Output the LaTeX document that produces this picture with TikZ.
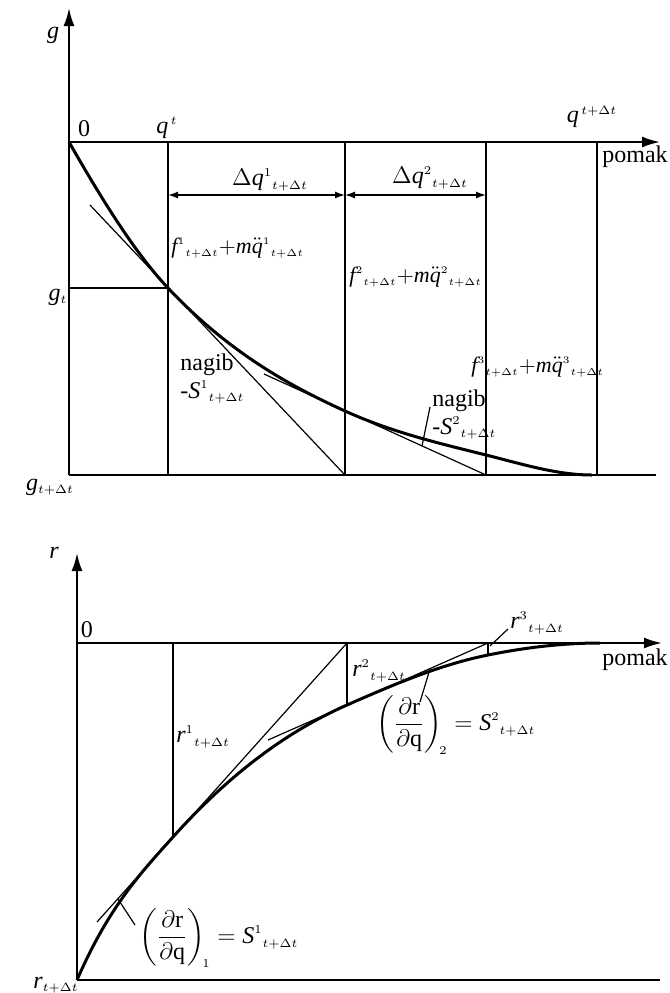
\documentclass[tikz,border=0pt]{standalone}
\usepackage{amsmath}
\usepackage{fontspec}
\setmainfont{Liberation Serif}
\usetikzlibrary{arrows.meta}
\newcommand{\lsub}[1]{{}_{\scriptscriptstyle #1}}
\newcommand{\lsup}[1]{^{\scriptscriptstyle #1}}
\begin{document}
\begin{tikzpicture}[x=0.5pt,y=-0.5pt,
  axis/.style={line width=1pt,-{Latex[length=9pt,width=5.5pt]}},
  frameline/.style={line width=0.9pt},
  thinline/.style={line width=0.6pt},
  curveline/.style={line width=1.5pt},
  lbl/.style={inner sep=0pt,font=\fontsize{12}{14}\selectfont},
  flbl/.style={inner sep=0pt,font=\fontsize{11}{13}\selectfont},
  dimline/.style={line width=0.7pt,{Latex[length=5pt,width=3.5pt]}-{Latex[length=5pt,width=3.5pt]}}
]
\useasboundingbox (0,0) rectangle (670,993);

% ================= TOP DIAGRAM =================
\coordinate (O1) at (69,142);
\coordinate (gtop) at (69,8);
\coordinate (xtip) at (660,142);
\coordinate (B0) at (69,475);
\coordinate (Bend) at (656,475);
\coordinate (V1t) at (168,142); \coordinate (V1b) at (168,475);
\coordinate (V2t) at (345,142); \coordinate (V2b) at (345,475);
\coordinate (V3t) at (486,142); \coordinate (V3b) at (486,475);
\coordinate (V4t) at (597,142); \coordinate (V4b) at (597,475);
\coordinate (gtl) at (69,288);
\coordinate (P1) at (168,288);
\coordinate (P2) at (345,411);
\coordinate (P3) at (486,455);
\coordinate (P4) at (592,475);
\coordinate (T1a) at (90,205);
\coordinate (T2a) at (264,374);
\coordinate (d1a) at (168,195);
\coordinate (d1b) at (345,195);
\coordinate (d2b) at (486,195);
\coordinate (L2a) at (430,407);
\coordinate (L2b) at (422,446);

\draw[axis] (B0) -- (gtop);
\draw[axis] (O1) -- (xtip);
\draw[frameline] (B0) -- (Bend);
\foreach \v in {1,2,3,4} \draw[thinline] (V\v t) -- (V\v b);
\draw[thinline] (gtl) -- (P1);
\draw[thinline] (T1a) -- (V2b);
\draw[thinline] (T2a) -- (V3b);
\draw[thinline] (L2a) -- (L2b);
\draw[dimline] (d1a) -- (d1b);
\draw[dimline] (d1b) -- (d2b);
\draw[curveline] (O1) .. controls (102,199.7) and (135,253) .. (P1)
  .. controls (227,350.5) and (286,384.2) .. (P2)
  .. controls (392,432.3) and (439,443.3) .. (P3)
  .. controls (521.3,463.8) and (556.7,475) .. (P4);

\node[lbl] (glab) at (53,35) {\textit{g}};
\node[lbl] (zero1) at (84,129) {0};
\node[lbl] (qt) at (167,128) {$\textit{q}\lsup{\,t}$};
\node[lbl] (qtdt) at (592,117) {$\textit{q}\lsup{\,t+\Delta t}$};
\node[lbl] (pomak1) at (635,157) {pomak};
\node[lbl] (dq1) at (270,180) {$\Delta\textit{q}\lsup{1}\lsub{t+\Delta t}$};
\node[lbl] (dq2) at (430,178) {$\Delta\textit{q}\lsup{2}\lsub{t+\Delta t}$};
\node[flbl,anchor=west] (f1) at (171,248) {$\textit{f}\lsup{1}\lsub{t+\Delta t}{+}\textit{m}\ddot{\textit{q}}\lsup{1}\lsub{t+\Delta t}$};
\node[flbl,anchor=west] (f2) at (349,277) {$\textit{f}\lsup{2}\lsub{t+\Delta t}{+}\textit{m}\ddot{\textit{q}}\lsup{2}\lsub{t+\Delta t}$};
\node[flbl,anchor=west] (f3) at (471,367) {$\textit{f}\lsup{3}\lsub{t+\Delta t}{+}\textit{m}\ddot{\textit{q}}\lsup{3}\lsub{t+\Delta t}$};
\node[lbl,anchor=west] (nag1) at (180,365) {nagib};
\node[lbl,anchor=west] (s1) at (180,392) {-$\textit{S}\lsup{1}\lsub{t+\Delta t}$};
\node[lbl,anchor=west] (nag2) at (432,401) {nagib};
\node[lbl,anchor=west] (s2) at (432,428) {-$\textit{S}\lsup{2}\lsub{t+\Delta t}$};
\node[lbl] (gt) at (58,297) {$\textit{g}\lsub{t}$};
\node[lbl] (gtdt) at (50,487) {$\textit{g}\lsub{t+\Delta t}$};

% ================= BOTTOM DIAGRAM =================
\coordinate (O2) at (77,643);
\coordinate (rtip) at (77,553);
\coordinate (R0) at (77,980);
\coordinate (x2tip) at (662,643);
\coordinate (Rend) at (660,980);
\coordinate (W1t) at (173,643); \coordinate (Q1) at (173,837);
\coordinate (W2t) at (347,643); \coordinate (Q2) at (347,705);
\coordinate (W3t) at (488,643); \coordinate (Q3) at (488,655);
\coordinate (Q4) at (600,643);
\coordinate (U1a) at (97,922);
\coordinate (U2a) at (268,740);
\coordinate (M3a) at (508,629);
\coordinate (M3b) at (490,646);
\coordinate (M2a) at (430,669);
\coordinate (M2b) at (420,702);
\coordinate (M1a) at (118,899);
\coordinate (M1b) at (135,925);

\draw[axis] (R0) -- (rtip);
\draw[axis] (O2) -- (x2tip);
\draw[frameline] (R0) -- (Rend);
\draw[thinline] (W1t) -- (Q1);
\draw[thinline] (W2t) -- (Q2);
\draw[thinline] (W3t) -- (Q3);
\draw[thinline] (U1a) -- (W2t);
\draw[thinline] (U2a) -- (W3t);
\draw[thinline] (M3a) -- (M3b);
\draw[thinline] (M2a) -- (M2b);
\draw[thinline] (M1a) -- (M1b);
\draw[curveline] (R0) .. controls (109,906.4) and (141,872.7) .. (Q1)
  .. controls (231,772.3) and (289,730.5) .. (Q2)
  .. controls (394,684.3) and (441,664.4) .. (Q3)
  .. controls (525.3,647.5) and (562.7,643) .. (Q4);

\node[lbl] (rlab) at (54,553) {\textit{r}};
\node[lbl] (zero2) at (87,630) {0};
\node[lbl] (pomak2) at (635,660) {pomak};
\node[lbl,anchor=west] (r1) at (176,737) {$\textit{r}\lsup{1}\lsub{t+\Delta t}$};
\node[lbl,anchor=west] (r2) at (352,671) {$\textit{r}\lsup{2}\lsub{t+\Delta t}$};
\node[lbl,anchor=west] (r3) at (510,623) {$\textit{r}\lsup{3}\lsub{t+\Delta t}$};
\node[lbl,anchor=west] (dr2) at (376,725) {$\left(\dfrac{\partial\mathrm{r}}{\partial\mathrm{q}}\right)_{\!\scriptscriptstyle 2}=\textit{S}\lsup{2}\lsub{t+\Delta t}$};
\node[lbl,anchor=west] (dr1) at (139,938) {$\left(\dfrac{\partial\mathrm{r}}{\partial\mathrm{q}}\right)_{\!\scriptscriptstyle 1}=\textit{S}\lsup{1}\lsub{t+\Delta t}$};
\node[lbl] (rtdt) at (56,985) {$\textit{r}\lsub{t+\Delta t}$};
\end{tikzpicture}
\end{document}
